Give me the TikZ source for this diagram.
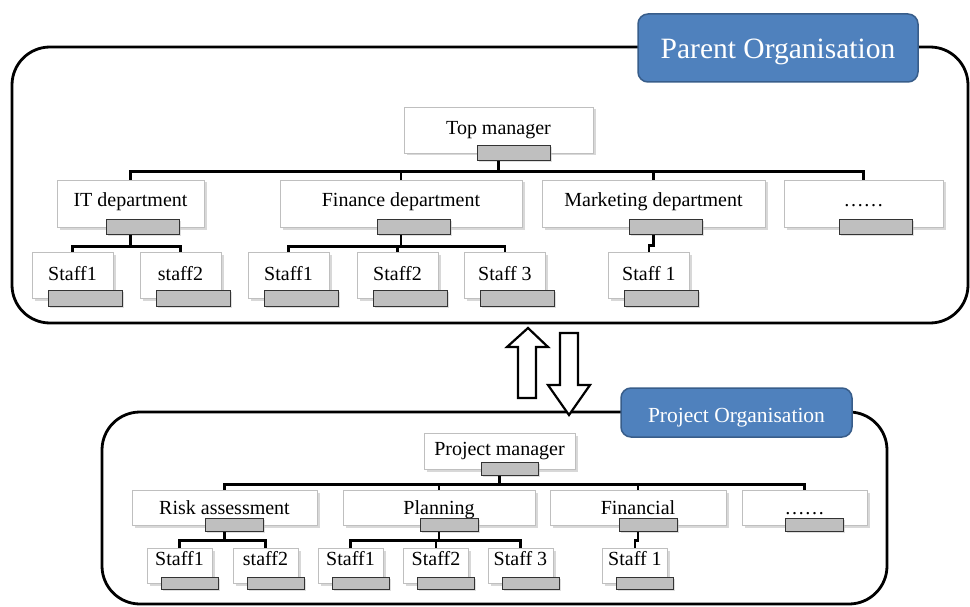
\documentclass[tikz,border=0pt]{standalone}
\usepackage{fontspec}
\setmainfont{Liberation Serif}
\usetikzlibrary{positioning,shadows}

\definecolor{bannerblue}{HTML}{4F81BD}
\definecolor{bannerline}{HTML}{385D8A}

\tikzset{
  orgbox/.style={draw=black!25, line width=0.9pt, fill=white, inner sep=0pt,
    font=\fontsize{20}{24}\selectfont,
    drop shadow={shadow xshift=2.5pt, shadow yshift=-2.5pt, fill=black!30}},
  orgtab/.style={draw=black!80, line width=1pt, fill=black!25, inner sep=0pt,
    drop shadow={shadow xshift=1.5pt, shadow yshift=-1.5pt, fill=black!25}},
  orglink/.style={line width=2.6pt},
  orgframe/.style={line width=2.8pt, rounded corners=38pt},
  banner/.style={draw=bannerline, line width=1.5pt, fill=bannerblue, text=white,
    rounded corners=10pt, inner sep=0pt},
  blockarrow/.style={draw, line width=2.2pt, fill=white, line join=miter}
}

\begin{document}
\begin{tikzpicture}[x=1pt,y=-1pt]
  \useasboundingbox (0,0) rectangle (970,607);

  % parent organisation
  \draw[orgframe] (12,47) rectangle (968,323);
  \node[banner, minimum width=280pt, minimum height=68pt, font=\fontsize{29.5}{34}\selectfont,
    text height=21pt, text depth=0pt] (parent) at (778,48) {Parent Organisation};

  \node[orgbox, minimum width=189pt, minimum height=46pt, text height=14pt, text depth=4pt] (tm) at (498.5,130) {Top manager};
  \node[orgtab, minimum width=73pt, minimum height=15pt] (tm-tab) at ([xshift=15pt]tm.south) {};

  \foreach \n/\x/\w/\t in {it/130.5/147/IT department, fin/401/242/Finance department,
      mkt/653.5/223/Marketing department, more/863.5/159/\dots\dots}{
    \node[orgbox, minimum width=\w pt, minimum height=47pt, text height=14pt, text depth=7pt] (\n) at (\x,203.5) {\t};
    \node[orgtab, minimum width=73pt, minimum height=15pt] (\n-tab) at ([xshift=12.5pt]\n.south) {};
  }

  \foreach \n/\x/\t in {its1/72.5/Staff1, its2/180.5/staff2, fins1/288.5/Staff1,
      fins2/397.5/Staff2, fins3/505/Staff 3, mkts1/649/Staff 1}{
    \node[orgbox, minimum width=81pt, minimum height=46pt, text height=14pt, text depth=4pt] (\n) at (\x,275) {\t};
    \node[orgtab, minimum width=74pt, minimum height=16pt] (\n-tab) at ([xshift=12.5pt]\n.south) {};
  }

  \foreach \c in {it,fin,mkt,more}
    \draw[orglink] (tm.center |- tm-tab.south) -- ++(0,10) -| (\c.north);
  \foreach \c in {its1,its2}
    \draw[orglink] (it.center |- it-tab.south) -- ++(0,11) -| (\c.north);
  \foreach \c in {fins1,fins2,fins3}
    \draw[orglink] (fin.center |- fin-tab.south) -- ++(0,11) -| (\c.north);
  \draw[orglink] (mkt.center |- mkt-tab.south) -- ++(0,10) -| (mkts1.north);

  % project organisation
  \draw[orgframe] (102,412) rectangle (887,604);
  \node[banner, minimum width=231pt, minimum height=49pt, font=\fontsize{21.5}{26}\selectfont,
    text height=19pt, text depth=0pt] (project) at (736.5,412.5) {Project Organisation};

  \node[orgbox, minimum width=151pt, minimum height=36pt, text height=14pt, text depth=6pt] (pm) at (499.5,451) {Project manager};
  \node[orgtab, minimum width=57pt, minimum height=13pt] (pm-tab) at ([xshift=10pt]pm.south) {};

  \foreach \n/\x/\w/\t in {risk/224.5/185/Risk assessment, plan/439/192/Planning,
      finc/638/176/Financial, etc/804.5/125/\dots\dots}{
    \node[orgbox, minimum width=\w pt, minimum height=35pt, text height=14pt, text depth=1pt] (\n) at (\x,507.5) {\t};
    \node[orgtab, minimum width=58pt, minimum height=13pt] (\n-tab) at ([xshift=10pt]\n.south) {};
  }

  \foreach \n/\x/\t in {risks1/179.5/Staff1, risks2/265.5/staff2, plans1/350.5/Staff1,
      plans2/436/Staff2, plans3/520.5/Staff 3, fincs1/635/Staff 1}{
    \node[orgbox, minimum width=65pt, minimum height=35pt, text height=14pt, text depth=15pt] (\n) at (\x,565.5) {\t};
    \node[orgtab, minimum width=57pt, minimum height=12pt] (\n-tab) at ([xshift=10pt]\n.south) {};
  }

  \foreach \c in {risk,plan,finc,etc}
    \draw[orglink] (pm.center |- pm-tab.south) -- ++(0,8) -| (\c.north);
  \foreach \c in {risks1,risks2}
    \draw[orglink] (risk.center |- risk-tab.south) -- ++(0,8) -| (\c.north);
  \foreach \c in {plans1,plans2,plans3}
    \draw[orglink] (plan.center |- plan-tab.south) -- ++(0,8) -| (\c.north);
  \draw[orglink] (finc.center |- finc-tab.south) -- ++(0,8) -| (fincs1.north);

  % the two arrows between the organisations
  \draw[blockarrow] (518,398) -- (518,347) -- (507,347) -- (528,328) -- (548,347) -- (536,347) -- (536,398) -- cycle;
  \draw[blockarrow] (560,333) -- (560,385) -- (548,385) -- (569,415) -- (590,385) -- (578,385) -- (578,333) -- cycle;
\end{tikzpicture}
\end{document}
